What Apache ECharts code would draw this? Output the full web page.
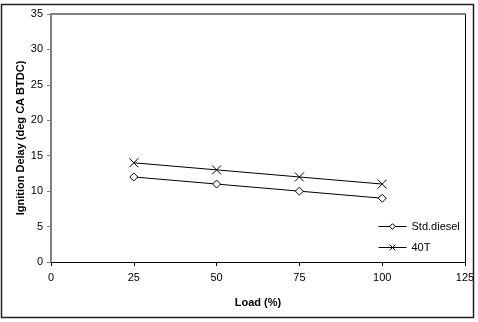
<!DOCTYPE html>
<html>
<head>
<meta charset="utf-8">
<script src="https://cdn.jsdelivr.net/npm/echarts@6/dist/echarts.min.js"></script>
<style>
  html, body { margin: 0; padding: 0; background: #fff; }
  #chart { width: 478px; height: 322px; }
</style>
</head>
<body>
<div id="chart"></div>
<script>
// data
var loads = [25, 50, 75, 100];
var stdDiesel = [12, 11, 10, 9];
var t40 = [14, 13, 12, 11];

var font = 'Liberation Sans, Arial, sans-serif';
var crossPath = 'path://M0,0L10,10M10,0L0,10';

function pairs(ys) {
    return loads.map(function (x, i) { return [x, ys[i]]; });
}

var chart = echarts.init(document.getElementById('chart'));
chart.setOption({
    animation: false,
    textStyle: { fontFamily: font },
    graphic: [{
        type: 'rect',
        shape: { x: 1.5, y: 4.5, width: 472, height: 313 },
        style: { fill: 'none', stroke: '#222', lineWidth: 1.5 },
        silent: true
    }],
    grid: { left: 51, right: 13, top: 14, bottom: 60 },
    legend: {
        orient: 'vertical',
        left: 373,
        top: 216,
        itemWidth: 28,
        itemHeight: 7,
        itemGap: 10,
        textStyle: { fontSize: 11, color: '#000', fontFamily: font },
        lineStyle: { width: 1, color: '#000' },
        itemStyle: { borderWidth: 1 },
        data: ['Std.diesel', '40T']
    },
    xAxis: [{
        type: 'value',
        min: 0, max: 125, interval: 25,
        name: 'Load (%)',
        nameLocation: 'middle',
        nameGap: 35,
        nameTextStyle: { fontSize: 11, fontWeight: 'bold', color: '#000' },
        axisLine: { lineStyle: { color: '#000', width: 1 } },
        axisTick: { show: true, length: 4, lineStyle: { color: '#000' } },
        axisLabel: { fontSize: 11, color: '#000', margin: 10 },
        splitLine: { show: false }
    }, {
        type: 'value', position: 'top',
        min: 0, max: 125,
        axisLine: { show: true, onZero: false, lineStyle: { color: '#808080', width: 2 } },
        axisTick: { show: false }, axisLabel: { show: false }, splitLine: { show: false }
    }],
    yAxis: [{
        type: 'value',
        min: 0, max: 35, interval: 5,
        name: 'Ignition Delay (deg CA BTDC)',
        nameLocation: 'middle',
        nameGap: 25,
        nameMoveOverlap: false,
        nameTextStyle: { fontSize: 11, fontWeight: 'bold', color: '#000' },
        axisLine: { show: true, onZero: false, lineStyle: { color: '#808080', width: 2 } },
        axisTick: { show: true, length: 4, lineStyle: { color: '#808080' } },
        axisLabel: { fontSize: 11, color: '#000', margin: 8 },
        splitLine: { show: false }
    }, {
        type: 'value', position: 'right',
        min: 0, max: 35,
        axisLine: { show: true, onZero: false, lineStyle: { color: '#000', width: 1 } },
        axisTick: { show: false }, axisLabel: { show: false }, splitLine: { show: false }
    }],
    series: [{
        name: 'Std.diesel',
        type: 'line',
        data: pairs(stdDiesel),
        symbol: 'diamond',
        symbolSize: 8,
        lineStyle: { color: '#000', width: 1 },
        itemStyle: { color: '#fff', borderColor: '#000', borderWidth: 1 }
    }, {
        name: '40T',
        type: 'line',
        data: pairs(t40),
        symbol: crossPath,
        symbolSize: 9,
        lineStyle: { color: '#000', width: 1 },
        itemStyle: { color: 'none', borderColor: '#000', borderWidth: 1 }
    }]
});
</script>
</body>
</html>
